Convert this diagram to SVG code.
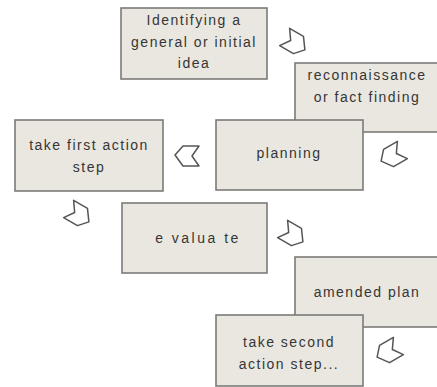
<svg xmlns="http://www.w3.org/2000/svg" width="437" height="387" viewBox="0 0 437 387">
<defs>
<style>
.box{fill:#e9e7e0;stroke:#7b7b78;stroke-width:1.6}
.t{font-family:"Liberation Sans",Arial,sans-serif;font-size:14px;fill:#363636;text-anchor:middle;letter-spacing:1.5px}
.arr{fill:#ffffff;stroke:#555;stroke-width:1.5;stroke-linejoin:round}
</style>
<path id="a" d="M -12,-10 L 4,-10 L 12,1 L 4,10 L -12,10 L -5,0 Z"/>
</defs>
<rect width="437" height="387" fill="#ffffff"/>
<g id="idea">
<rect class="box" x="121" y="8" width="146" height="71"/>
<text class="t" x="194" y="25">Identifying a</text>
<text class="t" x="194" y="47">general or initial</text>
<text class="t" x="194" y="68">idea</text>
</g>
<g id="reconnaissance">
<rect class="box" x="295" y="63" width="150" height="69"/>
<text class="t" x="367" y="80">reconnaissance</text>
<text class="t" x="367" y="102">or fact finding</text>
</g>
<g id="planning">
<rect class="box" x="216" y="120" width="147" height="70"/>
<text class="t" x="289" y="158">planning</text>
</g>
<g id="first-action">
<rect class="box" x="15" y="120" width="148" height="71"/>
<text class="t" x="89" y="150">take first action</text>
<text class="t" x="89" y="172">step</text>
</g>
<g id="evaluate">
<rect class="box" x="122" y="203" width="145" height="70"/>
<text class="t" x="198" y="243" style="letter-spacing:2.5px">e valua te</text>
</g>
<g id="amended-plan">
<rect class="box" x="295" y="257" width="150" height="70"/>
<text class="t" x="367" y="297">amended plan</text>
</g>
<g id="second-action">
<rect class="box" x="216" y="315" width="147" height="71"/>
<text class="t" x="289" y="347">take second</text>
<text class="t" x="289" y="369">action step...</text>
</g>
<g id="connectors">
<use href="#a" class="arr" transform="translate(295,43) rotate(30)"/>
<use href="#a" class="arr" transform="translate(392,156) rotate(150)"/>
<use href="#a" class="arr" transform="translate(187,156) rotate(180)"/>
<use href="#a" class="arr" transform="translate(79,215) rotate(30)"/>
<use href="#a" class="arr" transform="translate(293,235) rotate(30)"/>
<use href="#a" class="arr" transform="translate(388,352) rotate(150)"/>
</g>
</svg>
